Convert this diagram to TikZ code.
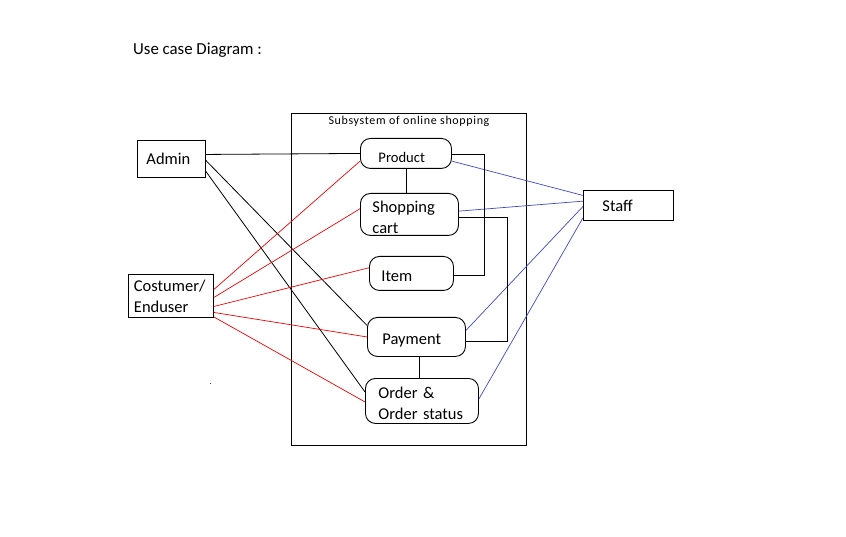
\documentclass[tikz,border=0pt]{standalone}
\usepackage{fontspec}
\setmainfont{Carlito}
\usetikzlibrary{calc}
\definecolor{rojo}{HTML}{F00000}
\definecolor{azul}{HTML}{3F48CC}
\definecolor{tinta}{HTML}{000000}
\tikzset{
 actor/.style={draw=tinta,line width=0.9pt,anchor=north west,align=left,inner ysep=0pt,font=\fontsize{16.5}{21}\selectfont},
 uc/.style={actor,rounded corners=10pt,execute at begin node={\rule{0pt}{17pt}}},
 assoc/.style={tinta,line width=0.8pt},
 cli/.style={rojo,line width=0.7pt},
 emp/.style={azul,line width=0.7pt},
}

\begin{document}
\begin{tikzpicture}[x=1pt,y=-1pt]
\fill[white] (0,0) rectangle (846,537);
\useasboundingbox (0,0) rectangle (846,537);

\node[anchor=base west,inner sep=0pt,font=\fontsize{16.8}{20}\selectfont] (titulo) at (133,54.5) {Use case Diagram :};

\draw[tinta,line width=0.9pt] (291,113) rectangle (526,445);
\node[anchor=base,inner sep=0pt,font=\fontsize{12}{14}\selectfont\addfontfeature{LetterSpace=5.5}] (sistema) at (409,125) {Subsystem of online shopping};

\node[actor,inner xsep=9pt,text width=50pt,minimum height=37pt] (admin) at (137,140) {Admin};
\node[actor,inner xsep=5.5pt,text width=74pt,minimum height=43pt] (cliente) at (128,274) {Costumer/\\Enduser};
\node[actor,inner xsep=19pt,text width=52pt,minimum height=30pt] (staff) at (583,190) {Staff};

\node[uc,inner xsep=18pt,text width=55pt,minimum height=30pt,font=\fontsize{14.6}{18}\selectfont,execute at begin node={\rule{0pt}{18.5pt}}] (producto) at (360,138) {Product};
\node[uc,inner xsep=12pt,text width=74pt,minimum height=42pt] (carro) at (360,193) {Shopping\\cart};
\node[uc,inner xsep=12pt,text width=60pt,minimum height=34pt] (item) at (369,256) {Item};
\node[uc,inner xsep=15pt,text width=68pt,minimum height=39pt] (pago) at (367,317) {Payment};
\node[uc,inner xsep=13pt,text width=87pt,minimum height=45pt] (pedido) at (365,378) {Order \&\\Order status};

\draw[assoc] ([yshift=4.5pt]admin.east) -- (producto.west);
\draw[assoc] ([yshift=-1.5pt]admin.east) -- ([yshift=11.5pt]pago.west);
\draw[assoc] ([yshift=-12.5pt]admin.east) -- ([yshift=9pt]pedido.west);

\draw[cli] ([yshift=6.5pt]cliente.east) -- ([yshift=-7.7pt]producto.west);
\draw[cli] ([yshift=-1.5pt]cliente.east) -- ([yshift=5.7pt]carro.west);
\draw[cli] ([yshift=-10.5pt]cliente.east) -- ([yshift=5.7pt]item.west);
\draw[cli] ([yshift=-16.5pt]cliente.east) -- (pago.west);
\draw[cli] ([yshift=-21pt]cliente.east) -- ([yshift=-1pt]pedido.west);
\fill[rojo] (209.5,382.5) rectangle (211,384);

\draw[emp] ([yshift=-7.7pt]producto.east) -- ([yshift=10pt]staff.west);
\draw[emp] ([yshift=3.3pt]carro.east) -- ([yshift=4.3pt]staff.west);
\draw[emp] ([yshift=6.5pt]pago.east) -- ([yshift=-1pt]staff.west);
\draw[emp] ([yshift=2pt]pedido.east) -- ([yshift=-12.3pt]staff.west);

\draw[assoc] (producto.south) -- (producto.south |- carro.north);
\draw[assoc] ([yshift=-1pt]producto.east) -- ++(32,0) |- ([yshift=-2pt]item.east);
\draw[assoc] ([yshift=-3.3pt]carro.east) -- ++(48,0) |- ([yshift=-4.5pt]pago.east);
\draw[assoc] ([xshift=3pt]pago.south) -- ([xshift=3pt]pago.south |- pedido.north);

\end{tikzpicture}
\end{document}
